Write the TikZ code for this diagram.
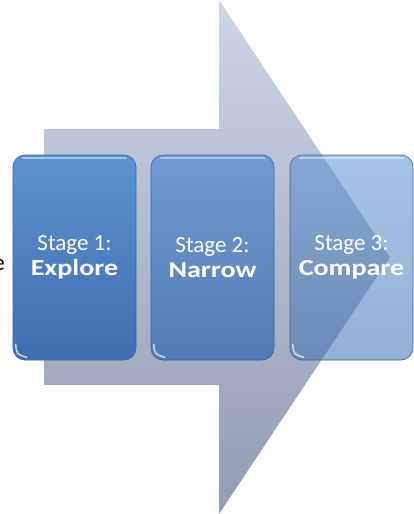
\documentclass[tikz,border=0pt]{standalone}
\usepackage{fontspec}
\setmainfont{Carlito}[BoldFeatures={FakeStretch=1.22}]
\usetikzlibrary{calc}
\definecolor{arrowtop}{RGB}{206,212,230}
\definecolor{arrowbot}{RGB}{146,156,178}
\definecolor{stagetop}{RGB}{92,146,210}
\definecolor{stagebot}{RGB}{62,110,176}
\definecolor{stageedge}{RGB}{60,100,160}
\begin{document}
\begin{tikzpicture}[x=1pt,y=-1pt,
  stagebox/.style={rounded corners=12pt, minimum width=123pt, minimum height=205pt,
    inner sep=0pt, text=white, text opacity=1, align=center,
    font=\fontsize{23}{25}\selectfont,
    top color=stagetop, bottom color=stagebot,
    draw=stageedge, line width=0.6pt},
  gloss/.style={white, line width=1.6pt, line cap=round},
  labeltext/.style={font=\fontsize{23}{25}\selectfont, text=black}]
  \useasboundingbox (0,0) rectangle (414,514);

  % large background arrow
  \shade[top color=arrowtop, bottom color=arrowbot]
    (44,129) -- (219,129) -- (219,0) -- (390,257) -- (219,514) -- (219,385) -- (44,385) -- cycle;

  % partly hidden label at the left edge
  \node[labeltext, anchor=base east, inner sep=0pt] (lead) at (5,270) {e};

  % the three stages
  \node[stagebox, fill opacity=1]    (s1) at (74.5,257.5)  {Stage 1:\\\textbf{Explore}};
  \node[stagebox, fill opacity=0.8]  (s2) at (212.5,257.5) {Stage 2:\\\textbf{Narrow}};
  \node[stagebox, fill opacity=0.55] (s3) at (351.5,257.5) {Stage 3:\\\textbf{Compare}};

  % glossy highlights
  \foreach \b in {s1,s2,s3} {
    \draw[gloss, opacity=0.45] ($(\b.north west)+(10,3)$) -- ($(\b.north east)+(-10,3)$);
    \draw[gloss, opacity=0.7]
      ($(\b.south west)+(3,-16)$) .. controls ($(\b.south west)+(4,-6)$) .. ($(\b.south west)+(14,-3)$);
  }
\end{tikzpicture}
\end{document}
